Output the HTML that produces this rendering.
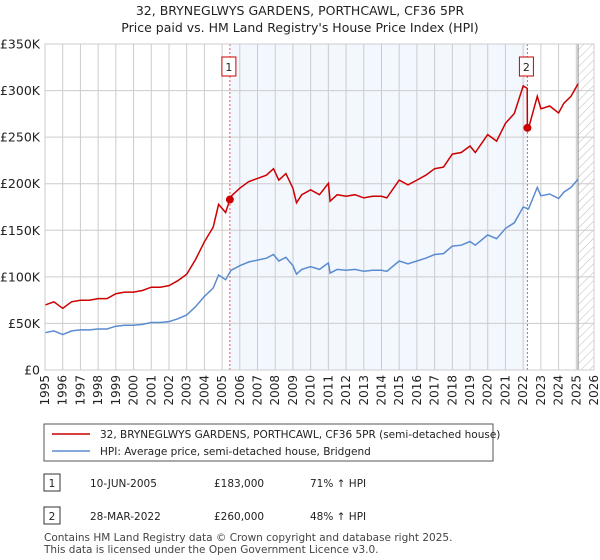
<!DOCTYPE html>
<html><head><meta charset="utf-8"><style>
body{margin:0;background:#fff;font-family:"Liberation Sans","DejaVu Sans",sans-serif;}
svg{display:block}
</style></head><body>
<svg width="600" height="560" viewBox="0 0 600 560" font-family="DejaVu Sans, Liberation Sans, sans-serif">
<text x="300" y="15" text-anchor="middle" font-size="12.5" fill="#222">32, BRYNEGLWYS GARDENS, PORTHCAWL, CF36 5PR</text>
<text x="300" y="32" text-anchor="middle" font-size="12.5" fill="#222">Price paid vs. HM Land Registry's House Price Index (HPI)</text>
<defs><pattern id="hatch" width="6" height="6" patternUnits="userSpaceOnUse" patternTransform="rotate(45)"><line x1="0" y1="0" x2="0" y2="6" stroke="#bbb" stroke-width="1"/></pattern></defs>
<g id="plot"></g>
<rect x="44" y="424" width="449" height="37" fill="#fff" stroke="#555"/>
<line x1="52" y1="434" x2="90" y2="434" stroke="#cc0000" stroke-width="1.5"/>
<text x="100" y="438" font-size="10.5" fill="#222">32, BRYNEGLWYS GARDENS, PORTHCAWL, CF36 5PR (semi-detached house)</text>
<line x1="52" y1="451" x2="90" y2="451" stroke="#5b8bd0" stroke-width="1.5"/>
<text x="100" y="455" font-size="10.5" fill="#222">HPI: Average price, semi-detached house, Bridgend</text>
<g font-size="10.5" fill="#222">
<rect x="44" y="474" width="16" height="17" fill="#fff" stroke="#333"/><text x="52" y="487" text-anchor="middle">1</text>
<text x="90" y="487">10-JUN-2005</text>
<text x="214" y="487">£183,000</text>
<text x="310" y="487">71% ↑ HPI</text>
<rect x="44" y="507" width="16" height="17" fill="#fff" stroke="#333"/><text x="52" y="520" text-anchor="middle">2</text>
<text x="90" y="520">28-MAR-2022</text>
<text x="214" y="520">£260,000</text>
<text x="310" y="520">48% ↑ HPI</text>
<text x="44" y="541" fill="#444">Contains HM Land Registry data © Crown copyright and database right 2025.</text>
<text x="44" y="553" fill="#444">This data is licensed under the Open Government Licence v3.0.</text>
</g>
</svg>
<script>
const hpiYears=[1995,1995.5,1996,1996.5,1997,1997.5,1998,1998.5,1999,1999.5,2000,2000.5,2001,2001.5,2002,2002.5,2003,2003.5,2004,2004.5,2004.8,2005.2,2005.5,2006,2006.5,2007,2007.5,2007.9,2008.2,2008.6,2009,2009.2,2009.5,2010,2010.5,2011,2011.1,2011.5,2012,2012.5,2013,2013.5,2014,2014.3,2015,2015.5,2016,2016.5,2017,2017.5,2018,2018.5,2019,2019.3,2020,2020.5,2021,2021.5,2022,2022.3,2022.8,2023,2023.5,2024,2024.3,2024.7,2025.1];
const hpiValues=[40,42,38,42,43,43,44,44,47,48,48,49,51,51,52,55,59,68,79,88,102,97,107,112,116,118,120,124,117,121,112,103,108,111,108,115,104,108,107,108,106,107,107,106,117,114,117,120,124,125,133,134,138,134,145,141,152,158,175,173,196,187,189,184,191,196,205];
const saleDates=[2005.44,2022.24];
const salePrices=[183,260];
const yTicks=[0,50,100,150,200,250,300,350];
const yTickLabels=["£0","£50K","£100K","£150K","£200K","£250K","£300K","£350K"];
const xTicks=[1995,1996,1997,1998,1999,2000,2001,2002,2003,2004,2005,2006,2007,2008,2009,2010,2011,2012,2013,2014,2015,2016,2017,2018,2019,2020,2021,2022,2023,2024,2025,2026];
const X0=45,X1=594,Y0=370,Y1=44;
const xs=y=>X0+(y-1995)/(2026-1995)*(X1-X0);
const ys=v=>Y0-v/350*(Y0-Y1);
const NS="http://www.w3.org/2000/svg";
const g=document.getElementById('plot');
function mk(t,a){const e=document.createElementNS(NS,t);for(const k in a)e.setAttribute(k,a[k]);g.appendChild(e);return e;}
function interp(y){for(let i=0;i<hpiYears.length-1;i++){if(y<=hpiYears[i+1]){const t=(y-hpiYears[i])/(hpiYears[i+1]-hpiYears[i]);return hpiValues[i]+t*(hpiValues[i+1]-hpiValues[i]);}}return hpiValues[hpiValues.length-1];}
let e;
e=mk('rect',{x:xs(saleDates[0]),y:Y1,width:xs(saleDates[1])-xs(saleDates[0]),height:Y0-Y1,fill:'#eef3fd',opacity:0.7});


const lastY=hpiYears[hpiYears.length-1];
e=mk('rect',{x:xs(lastY),y:Y1,width:X1-xs(lastY),height:Y0-Y1,fill:'url(#hatch)'});


xTicks.forEach((t,i)=>{
 e=mk('line',{x1:xs(t),x2:xs(t),y1:Y1,y2:Y0,stroke:'#cccccc','stroke-width':1});
 
 
 e=mk('text',{x:0,y:0,transform:`translate(${xs(t)+4},${Y0+5}) rotate(-90)`,'text-anchor':'end','font-size':12,fill:'#222'});
 e.textContent=t;
 
 
});
yTicks.forEach((t,i)=>{
 e=mk('line',{x1:X0,x2:X1,y1:ys(t),y2:ys(t),stroke:'#cccccc','stroke-width':1});
 
 
 e=mk('text',{x:X0-5,y:ys(t)+4.5,'text-anchor':'end','font-size':12.5,fill:'#222'});
 e.textContent=yTickLabels[i];
 
 
});
e=mk('line',{x1:xs(lastY),x2:xs(lastY),y1:Y1,y2:Y0,stroke:'#888','stroke-width':1});


saleDates.forEach((d,i)=>{
 e=mk('line',{x1:xs(d),x2:xs(d),y1:Y1,y2:Y0,stroke:'#ee5555','stroke-width':1,'stroke-dasharray':'2,2'});
 
 
 e=mk('rect',{x:xs(d)-8,y:57,width:14,height:19,fill:'#fff',stroke:'#cc0000'});
 
 
 e=mk('text',{x:xs(d)-1,y:71,'text-anchor':'middle','font-size':11,fill:'#222'});
 e.textContent=String(i+1);
 
 
});
// HPI line
let p='';hpiYears.forEach((y,i)=>{p+=(i?'L':'M')+xs(y).toFixed(1)+','+ys(hpiValues[i]).toFixed(1);});
e=mk('path',{d:p,fill:'none',stroke:'#5b8bd0','stroke-width':1.5});


// property line: HPI indexed to sales
const f1=salePrices[0]/interp(saleDates[0]), f2=salePrices[1]/interp(saleDates[1]);
let pts=[];
hpiYears.forEach((y,i)=>{if(y<saleDates[1])pts.push([y,hpiValues[i]*f1]);});
pts.push([saleDates[1]-0.01,interp(saleDates[1]-0.01)*f1]);
pts.push([saleDates[1],salePrices[1]]);
hpiYears.forEach((y,i)=>{if(y>saleDates[1])pts.push([y,hpiValues[i]*f2]);});
p='';pts.forEach((q,i)=>{p+=(i?'L':'M')+xs(q[0]).toFixed(1)+','+ys(q[1]).toFixed(1);});
e=mk('path',{d:p,fill:'none',stroke:'#cc0000','stroke-width':1.5});


saleDates.forEach((d,i)=>{
 e=mk('circle',{cx:xs(d),cy:ys(salePrices[i]),r:4,fill:'#cc0000'});
 
 
});
e=mk('rect',{x:X0,y:Y1,width:X1-X0,height:Y0-Y1,fill:'none',stroke:'#cccccc'});


</script>
</body></html>
